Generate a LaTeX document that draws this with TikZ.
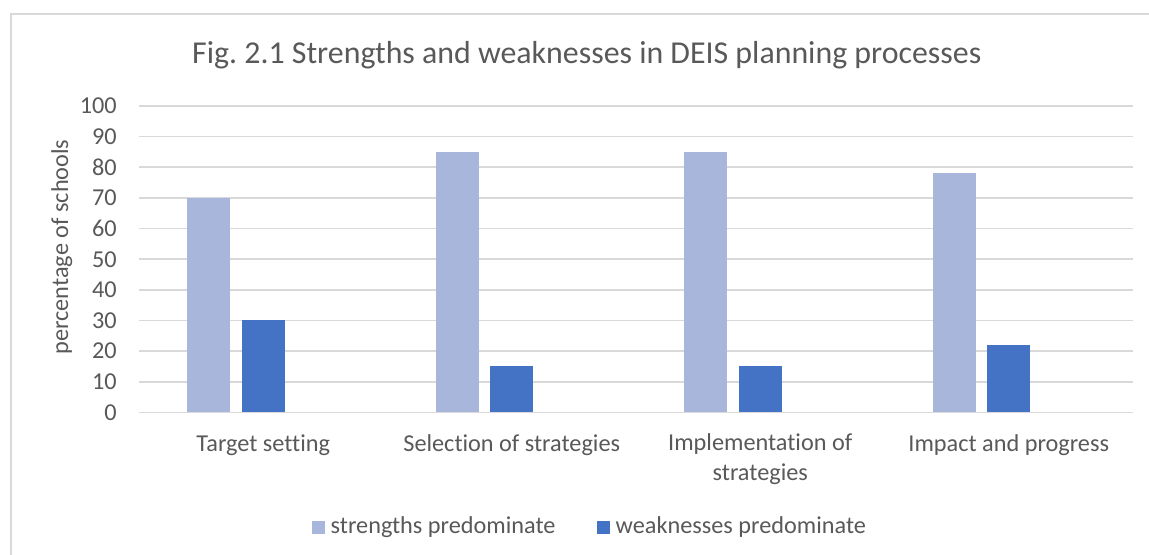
\documentclass[tikz,border=0pt]{standalone}
\usepackage{fontspec}
\setmainfont{Carlito}[Ligatures=NoCommon]
\usetikzlibrary{positioning}
\definecolor{txtgray}{HTML}{595959}
\definecolor{gridgray}{HTML}{D9D9D9}
\definecolor{strongblue}{HTML}{A9B6DB}
\definecolor{weakblue}{HTML}{4472C4}
\frenchspacing
\begin{document}
\begin{tikzpicture}[x=0.75pt,y=-0.75pt]

\newcommand*{\bars}[4]{
\draw (#2-76.3,412.5) node [sbar, minimum height=#3*2.299pt] (#1-s) {};
\draw (#2-21.6,412.5) node [wbar, minimum height=#4*2.299pt] (#1-w) {};
}

\tikzstyle {label}=[text=txtgray, inner sep=0pt,
     font=\fontsize{18.2}{21.75}\selectfont];

\tikzstyle {sbar}=[fill=strongblue, shape=rectangle, inner sep=0pt,
     minimum width=43*0.75pt, anchor=south west];

\tikzstyle {wbar}=[sbar, fill=weakblue];

\tikzstyle {key}=[shape=rectangle, inner sep=0pt, minimum size=9.75pt];

\useasboundingbox (0,0) rectangle (1149,555);
\fill [white] (0,0) rectangle (1149,555);
\draw [gridgray, line width=1.5pt] (10.5,555) -- (10.5,14) -- (1149,14);

% Title
\draw (586.8,63.3) node [text=txtgray, inner sep=0pt, anchor=base,
      font=\fontsize{23.9}{28}\selectfont] (title)
  {Fig. 2.1 Strengths and weaknesses in DEIS planning processes};

% Grid and axis
\foreach \v in {0,10,...,100} {
  \draw [gridgray, line width=1.2pt] (139,412.5-\v*3.065) -- (1133,412.5-\v*3.065);
  \draw (117,412.5-\v*3.065) node [label, anchor=east] (tick\v) {\v};
}
\draw (61.7,247) node [label, rotate=90] (ytitle) {percentage of schools};

% Bars
\bars{target}{263.25}{70}{30}
\bars{select}{511.75}{85}{15}
\bars{implem}{760.25}{85}{15}
\bars{impact}{1008.75}{78}{22}

% Categories
\draw (263.25,451.7) node [label, anchor=base] (cat1) {Target setting};
\draw (511.75,451.7) node [label, anchor=base] (cat2) {Selection of strategies};
\draw (760.25,480.7) node [label, anchor=base, align=center] (cat3)
  {Implementation of\\[1.1pt]strategies};
\draw (1008.75,451.7) node [label, anchor=base] (cat4) {Impact and progress};

% Legend
\draw (318.3,527) node [key, fill=strongblue] (key1) {};
\node [label, right=4pt of key1] (leg1) {strengths predominate};
\draw (603.3,527) node [key, fill=weakblue] (key2) {};
\node [label, right=4pt of key2] (leg2) {weaknesses predominate};
\end{tikzpicture}
\end{document}
